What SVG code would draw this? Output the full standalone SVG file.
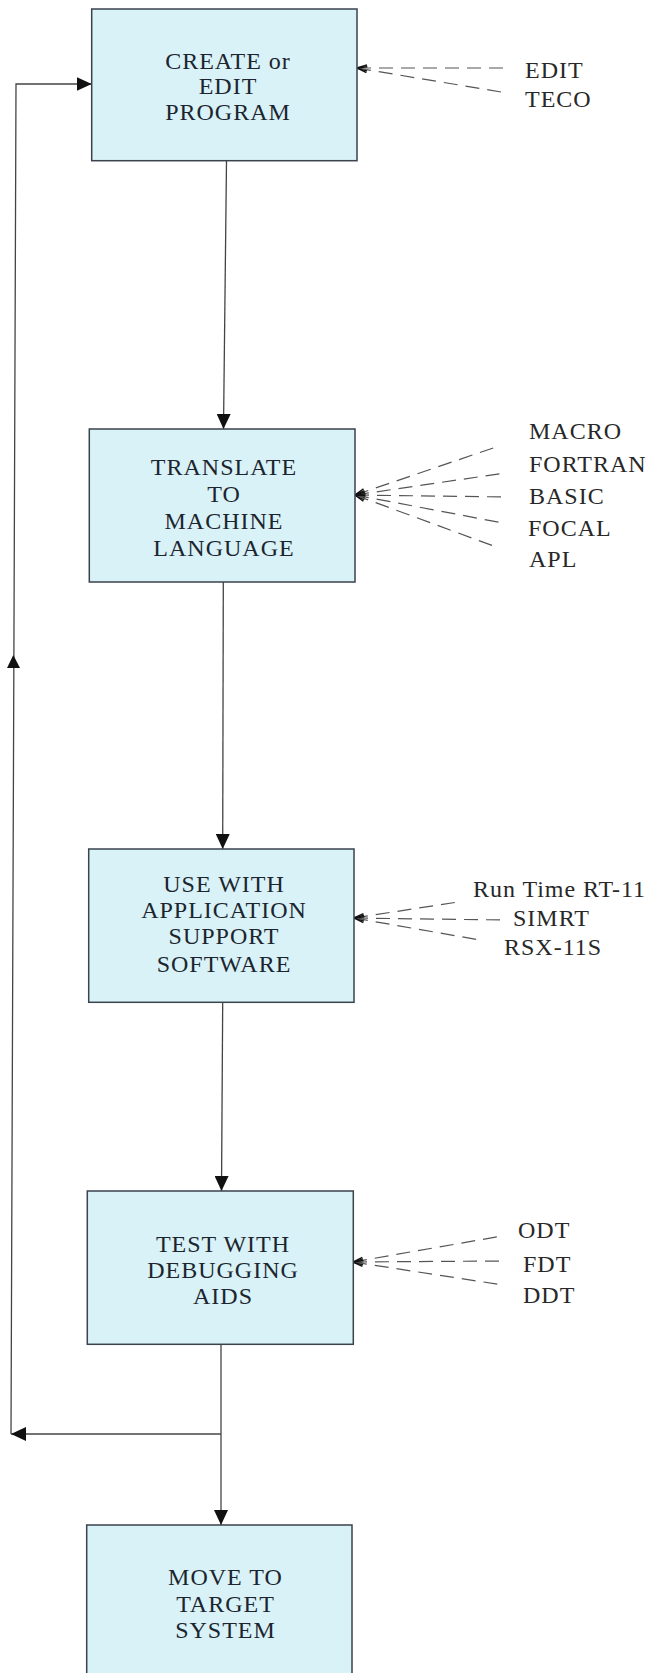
<svg xmlns="http://www.w3.org/2000/svg" width="656" height="1673" viewBox="0 0 656 1673">
<style>
.box{fill:#d8f2f8;stroke:#3a424c;stroke-width:1.5}
.bt{font-family:"Liberation Serif",serif;font-size:24px;fill:#1c252e;text-anchor:middle;letter-spacing:1px}
.lt{font-family:"Liberation Serif",serif;font-size:24px;fill:#282828;letter-spacing:1px}
.ln{fill:none;stroke:#444;stroke-width:1.3}
.fan{fill:none;stroke:#555;stroke-width:1.2;stroke-dasharray:14 8}
</style>
<defs>
<marker id="arr" markerUnits="userSpaceOnUse" viewBox="0 0 15 14" refX="15" refY="7" markerWidth="15" markerHeight="14" orient="auto">
<path d="M0,0 L15,7 L0,14 z" fill="#111"/>
</marker>
<marker id="chev" markerUnits="userSpaceOnUse" viewBox="-11 -5 13 10" refX="0" refY="0" markerWidth="13" markerHeight="10" orient="auto-start-reverse">
<path d="M-10,-3 L0,0 L-10,3" fill="none" stroke="#111" stroke-width="1.4"/>
</marker>
</defs>
<rect width="656" height="1673" fill="#fff"/>
<g id="connectors">
<path class="ln" d="M226.5,161 L223.5,429" marker-end="url(#arr)"/>
<path class="ln" d="M223.3,582 L222.7,849" marker-end="url(#arr)"/>
<path class="ln" d="M222.7,1002 L221.5,1191" marker-end="url(#arr)"/>
<path class="ln" d="M221,1344 L221,1525" marker-end="url(#arr)"/>
<path class="ln" d="M221,1434 L11,1434" marker-end="url(#arr)"/>
<path class="ln" d="M11,1434 L16,84 L91.7,84" marker-end="url(#arr)"/>
<path d="M13.3,655 L20,668 L7,668 z" fill="#111"/>
<g id="fan-edit">
<path class="fan" d="M357,68 L507,68" marker-start="url(#chev)"/>
<path class="fan" d="M357,68 L507,93" marker-start="url(#chev)"/>
</g>
<g id="fan-translate">
<path class="fan" d="M355,495 L499,446" marker-start="url(#chev)"/>
<path class="fan" d="M355,495 L505,473" marker-start="url(#chev)"/>
<path class="fan" d="M355,495 L505,497" marker-start="url(#chev)"/>
<path class="fan" d="M355,495 L503,523" marker-start="url(#chev)"/>
<path class="fan" d="M355,495 L499,548" marker-start="url(#chev)"/>
</g>
<g id="fan-use">
<path class="fan" d="M354,918 L458,902" marker-start="url(#chev)"/>
<path class="fan" d="M354,918 L503,920" marker-start="url(#chev)"/>
<path class="fan" d="M354,918 L480,940" marker-start="url(#chev)"/>
</g>
<g id="fan-test">
<path class="fan" d="M353,1262 L502,1236" marker-start="url(#chev)"/>
<path class="fan" d="M353,1262 L504,1261" marker-start="url(#chev)"/>
<path class="fan" d="M353,1262 L503,1285" marker-start="url(#chev)"/>
</g>
</g>
<g id="node-create">
<rect class="box" x="91.7" y="9" width="265.3" height="151.7"/>
<text class="bt" x="228" y="69">CREATE or</text>
<text class="bt" x="228" y="94">EDIT</text>
<text class="bt" x="228" y="120">PROGRAM</text>
</g>
<g id="node-translate">
<rect class="box" x="89.3" y="429" width="265.7" height="153"/>
<text class="bt" x="224" y="475">TRANSLATE</text>
<text class="bt" x="224" y="502">TO</text>
<text class="bt" x="224" y="529">MACHINE</text>
<text class="bt" x="224" y="556">LANGUAGE</text>
</g>
<g id="node-use">
<rect class="box" x="88.7" y="849" width="265.3" height="153.3"/>
<text class="bt" x="224" y="892">USE WITH</text>
<text class="bt" x="224" y="918">APPLICATION</text>
<text class="bt" x="224" y="944">SUPPORT</text>
<text class="bt" x="224" y="972">SOFTWARE</text>
</g>
<g id="node-test">
<rect class="box" x="87.3" y="1191" width="266" height="153.3"/>
<text class="bt" x="223" y="1252">TEST WITH</text>
<text class="bt" x="223" y="1278">DEBUGGING</text>
<text class="bt" x="223" y="1304">AIDS</text>
</g>
<g id="node-move">
<rect class="box" x="86.7" y="1525" width="265.3" height="156"/>
<text class="bt" x="225.5" y="1585">MOVE TO</text>
<text class="bt" x="225.5" y="1612">TARGET</text>
<text class="bt" x="225.5" y="1638">SYSTEM</text>
</g>
<g id="tools-edit">
<text class="lt" x="525" y="78">EDIT</text>
<text class="lt" x="525" y="107">TECO</text>
</g>
<g id="tools-translate">
<text class="lt" x="529" y="439">MACRO</text>
<text class="lt" x="529" y="472">FORTRAN</text>
<text class="lt" x="529" y="504">BASIC</text>
<text class="lt" x="528" y="536">FOCAL</text>
<text class="lt" x="529" y="567">APL</text>
</g>
<g id="tools-use">
<text class="lt" x="473" y="897" style="letter-spacing:0px" textLength="172">Run Time RT-11</text>
<text class="lt" x="513" y="926">SIMRT</text>
<text class="lt" x="504" y="955">RSX-11S</text>
</g>
<g id="tools-test">
<text class="lt" x="518" y="1238">ODT</text>
<text class="lt" x="523" y="1272">FDT</text>
<text class="lt" x="523" y="1303">DDT</text>
</g>
</svg>
